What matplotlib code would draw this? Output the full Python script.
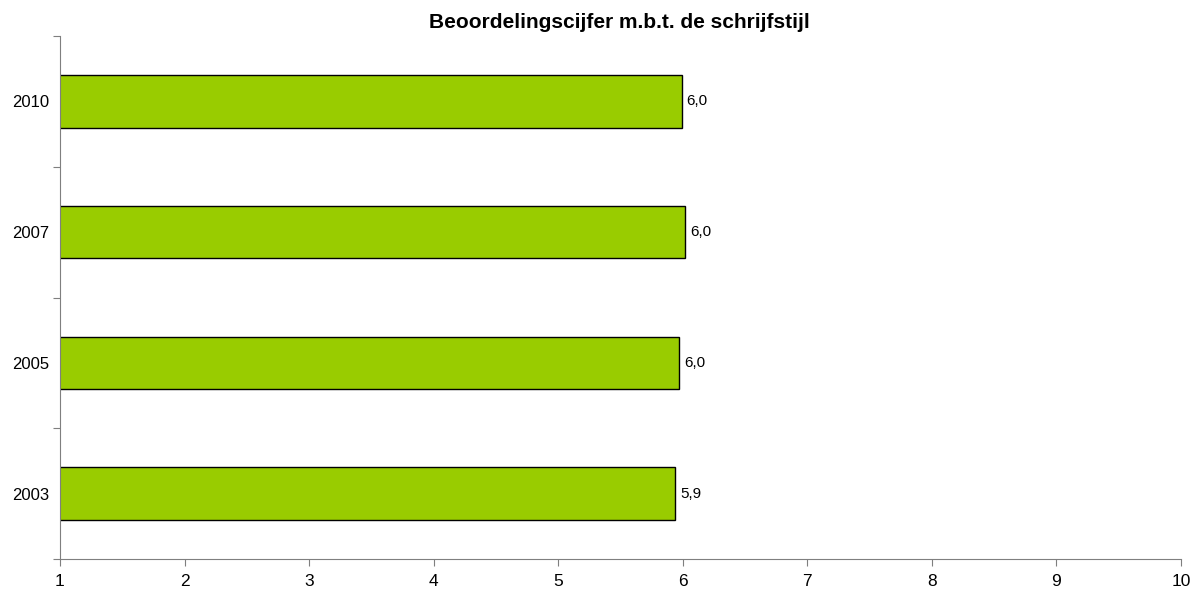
import matplotlib
matplotlib.use("Agg")
import matplotlib.pyplot as plt

# data
years = ["2003", "2005", "2007", "2010"]
scores = [5.94, 5.97, 6.02, 5.99]
labels = ["5,9", "6,0", "6,0", "6,0"]
x_ticks = list(range(1, 11))

plt.rcParams["font.family"] = ["Liberation Sans", "DejaVu Sans"]

fig = plt.figure(figsize=(11.95, 5.92), dpi=100)
ax = fig.add_axes([60 / 1195, 33 / 592, 1121 / 1195, 523 / 592])

pos = list(range(len(years)))
ax.barh(pos, scores, height=0.4, color="#99cc00", edgecolor="black", linewidth=1.0, zorder=2)

for p, v, lab in zip(pos, scores, labels):
    ax.annotate(lab, (v, p), xytext=(3.5, 0), textcoords="offset points",
                va="center", ha="left", fontsize=11)

ax.set_xlim(1, 10)
ax.set_ylim(-0.5, len(years) - 0.5)
ax.set_xticks(x_ticks)
ax.set_xticklabels([str(t) for t in x_ticks], fontsize=12.5)

# tick marks between categories, labels at the centers
ax.set_yticks([p - 0.5 for p in pos] + [pos[-1] + 0.5])
ax.set_yticklabels([])
ax.set_yticks(pos, minor=True)
ax.set_yticklabels(years, minor=True, fontsize=12)
ax.tick_params(axis="y", which="minor", length=0, pad=8)
ax.tick_params(axis="y", which="major", length=5, color="#7f7f7f")
ax.tick_params(axis="x", length=5, color="#7f7f7f", pad=6)

for s in ("top", "right"):
    ax.spines[s].set_visible(False)
for s in ("left", "bottom"):
    ax.spines[s].set_color("#7f7f7f")

fig.text(0.518, 0.962, "Beoordelingscijfer m.b.t. de schrijfstijl", ha="center", va="center",
         fontsize=15, fontweight="bold")

fig.savefig("out.png", dpi=100)
